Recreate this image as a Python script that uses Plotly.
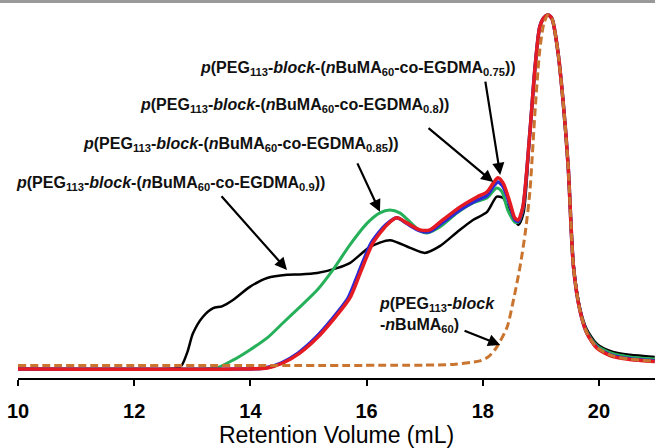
import plotly.graph_objects as go

# ---- data (retention volume in mL, normalised detector response) ----
black_x = [10.0, 12.0, 12.74, 12.82, 12.92, 13.01, 13.18, 13.36, 13.51, 13.70, 13.99, 14.29, 14.63, 14.85,
           15.15, 15.49, 15.71, 16.06, 16.40, 16.75, 17.00, 17.26, 17.56, 17.83, 18.07, 18.24, 18.35,
           18.47, 18.61, 18.70, 18.81, 18.90, 18.98, 19.05, 19.12, 19.19, 19.29, 19.38, 19.47, 19.56,
           19.67, 19.79, 19.97, 20.24, 20.53, 20.96]
black_y = [0.0, 0.0, 0.002, 0.011, 0.05, 0.10, 0.147, 0.172, 0.177, 0.195, 0.232, 0.257, 0.266, 0.267,
           0.271, 0.285, 0.299, 0.345, 0.364, 0.342, 0.328, 0.347, 0.387, 0.421, 0.443, 0.487, 0.483,
           0.443, 0.407, 0.44, 0.667, 0.853, 0.966, 0.992, 1.0, 0.99, 0.90, 0.76, 0.571, 0.30,
           0.175, 0.112, 0.07, 0.048, 0.04, 0.034]

green_x = [10.0, 13.0, 13.43, 13.70, 13.99, 14.29, 14.56, 14.85, 15.15, 15.42, 15.71, 16.01, 16.23, 16.40,
           16.57, 16.75, 16.92, 17.04, 17.26, 17.56, 17.83, 18.07, 18.24, 18.33, 18.43, 18.55, 18.61,
           18.69, 18.81, 18.90, 18.98, 19.05, 19.12, 19.19, 19.29, 19.38, 19.47, 19.56,
           19.67, 19.79, 19.97, 20.24, 20.53, 20.96]
green_y = [0.0, 0.0, 0.004, 0.025, 0.054, 0.088, 0.130, 0.175, 0.223, 0.280, 0.350, 0.412, 0.441, 0.449,
           0.441, 0.415, 0.390, 0.384, 0.401, 0.441, 0.469, 0.483, 0.511, 0.500, 0.449, 0.415, 0.415,
           0.45, 0.667, 0.853, 0.966, 0.992, 1.0, 0.99, 0.90, 0.76, 0.571, 0.295,
           0.17, 0.106, 0.065, 0.043, 0.034, 0.028]

blue_x = [10.0, 13.8, 14.25, 14.53, 14.82, 15.12, 15.39, 15.68, 15.86, 16.08, 16.33, 16.52, 16.70, 16.92,
          17.09, 17.31, 17.61, 17.90, 18.07, 18.18, 18.26, 18.35, 18.47, 18.55, 18.61, 18.69,
          18.81, 18.90, 18.98, 19.05, 19.12, 19.19, 19.29, 19.38, 19.47, 19.56,
          19.67, 19.79, 19.97, 20.24, 20.53, 20.96]
blue_y = [0.0, 0.0, 0.003, 0.017, 0.045, 0.088, 0.138, 0.200, 0.271, 0.356, 0.407, 0.427, 0.410, 0.390,
          0.388, 0.414, 0.450, 0.477, 0.490, 0.515, 0.528, 0.515, 0.462, 0.422, 0.417, 0.455,
          0.667, 0.853, 0.966, 0.992, 1.0, 0.99, 0.90, 0.76, 0.571, 0.29,
          0.167, 0.102, 0.060, 0.038, 0.029, 0.023]

red_x = [10.0, 13.8, 14.29, 14.56, 14.85, 15.15, 15.42, 15.71, 15.89, 16.11, 16.35, 16.52, 16.70, 16.92,
         17.09, 17.31, 17.61, 17.90, 18.07, 18.18, 18.26, 18.35, 18.47, 18.55, 18.61, 18.69,
         18.81, 18.90, 18.98, 19.05, 19.12, 19.19, 19.29, 19.38, 19.47, 19.56,
         19.67, 19.79, 19.97, 20.24, 20.53, 20.96]
red_y = [0.0, 0.0, 0.003, 0.017, 0.045, 0.088, 0.138, 0.200, 0.271, 0.356, 0.407, 0.427, 0.412, 0.393,
         0.393, 0.421, 0.458, 0.486, 0.500, 0.525, 0.540, 0.525, 0.469, 0.427, 0.421, 0.458,
         0.667, 0.853, 0.966, 0.992, 1.0, 0.99, 0.90, 0.76, 0.571, 0.29,
         0.167, 0.102, 0.058, 0.035, 0.027, 0.021]

ref_x = [10.0, 17.0, 17.49, 17.95, 18.10, 18.24, 18.42, 18.52, 18.64, 18.73, 18.81, 18.90, 18.98,
         19.05, 19.12, 19.19, 19.29, 19.38, 19.47, 19.56, 19.67, 19.79, 19.97, 20.24, 20.53, 20.96]
ref_y = [0.010, 0.011, 0.013, 0.023, 0.035, 0.062, 0.119, 0.189, 0.288, 0.384, 0.50, 0.73, 0.90,
         0.975, 1.0, 0.99, 0.90, 0.76, 0.571, 0.29, 0.167, 0.102, 0.060, 0.037, 0.028, 0.022]

x_ticks = [10, 12, 14, 16, 18, 20]

labels = [
    "<b><i>p</i>(PEG<sub>113</sub>-<i>block</i>-(<i>n</i>BuMA<sub>60</sub>-co-EGDMA<sub>0.75</sub>))</b>",
    "<b><i>p</i>(PEG<sub>113</sub>-<i>block</i>-(<i>n</i>BuMA<sub>60</sub>-co-EGDMA<sub>0.8</sub>))</b>",
    "<b><i>p</i>(PEG<sub>113</sub>-<i>block</i>-(<i>n</i>BuMA<sub>60</sub>-co-EGDMA<sub>0.85</sub>))</b>",
    "<b><i>p</i>(PEG<sub>113</sub>-<i>block</i>-(<i>n</i>BuMA<sub>60</sub>-co-EGDMA<sub>0.9</sub>))</b>",
]
label_pos = [(13.17, 0.850), (12.13, 0.743), (11.15, 0.633), (10.0, 0.525)]
ref_label = "<b><i>p</i>(PEG<sub>113</sub>-<i>block</i><br>-<i>n</i>BuMA<sub>60</sub>)</b>"
ref_label_pos = (16.18, 0.153)

# arrows: (head_x, head_y, tail_x, tail_y)
arrows = [
    (18.30, 0.548, 18.04, 0.816),
    (18.18, 0.528, 17.04, 0.684),
    (16.23, 0.444, 15.83, 0.585),
    (14.63, 0.280, 13.48, 0.492),
    (18.30, 0.068, 17.66, 0.110),
]

fig = go.Figure()
series = [
    (black_x, black_y, "#000000", 2.5, "solid"),
    (green_x, green_y, "#27b05a", 3, "solid"),
    (blue_x, blue_y, "#2a2ad6", 3.5, "solid"),
    (red_x, red_y, "#e41b22", 3.5, "solid"),
    (ref_x, ref_y, "#c9742f", 3, "8px,4px"),
]
for xs, ys, col, w, dash in series:
    fig.add_trace(go.Scatter(x=xs, y=ys, mode="lines",
                             line=dict(color=col, width=w, dash=dash, shape="spline", smoothing=0.7),
                             showlegend=False, hoverinfo="skip"))

ann_font = dict(family="Liberation Sans, Arial, sans-serif", size=16, color="#111111")
annotations = []
for txt, (lx, ly) in zip(labels, label_pos):
    annotations.append(dict(x=lx, y=ly, xref="x", yref="y", text=txt, showarrow=False,
                            xanchor="left", yanchor="middle", xshift=-4, font=ann_font))
annotations.append(dict(x=ref_label_pos[0], y=ref_label_pos[1], xref="x", yref="y", text=ref_label,
                        showarrow=False, xanchor="left", yanchor="middle", align="left", font=ann_font))
for hx, hy, tx, ty in arrows:
    annotations.append(dict(x=hx, y=hy, xref="x", yref="y", ax=tx, ay=ty, axref="x", ayref="y",
                            text="", showarrow=True, arrowhead=2, arrowsize=1.1, arrowwidth=2.2,
                            arrowcolor="#000000"))

fig.update_layout(
    width=655, height=448,
    margin=dict(l=18, r=0, t=4, b=70),
    paper_bgcolor="white", plot_bgcolor="white",
    annotations=annotations,
    shapes=[dict(type="line", xref="paper", yref="paper", x0=-0.05, x1=1.05,
                 y0=1 + 2.5 / 374, y1=1 + 2.5 / 374, line=dict(color="#999999", width=3))],
)
fig.update_xaxes(range=[10, 20.964], tickvals=x_ticks, ticktext=[str(t) for t in x_ticks],
                 showline=True, linecolor="black", linewidth=2, ticks="outside", ticklen=6,
                 tickwidth=2, tickcolor="black", showgrid=False, zeroline=False,
                 ticklabelstandoff=8,
                 tickfont=dict(family="Liberation Sans, Arial, sans-serif", size=20, color="black",
                               weight="bold"),
                 title=dict(text="Retention Volume (mL)", standoff=5,
                            font=dict(family="Liberation Sans, Arial, sans-serif", size=23,
                                      color="black")))
fig.update_yaxes(range=[-0.0254, 1.031], visible=False, showgrid=False, zeroline=False)

fig.write_html("out.html", config={"displayModeBar": False},
               post_script="document.body.style.margin='0';document.body.style.overflow='hidden';")
